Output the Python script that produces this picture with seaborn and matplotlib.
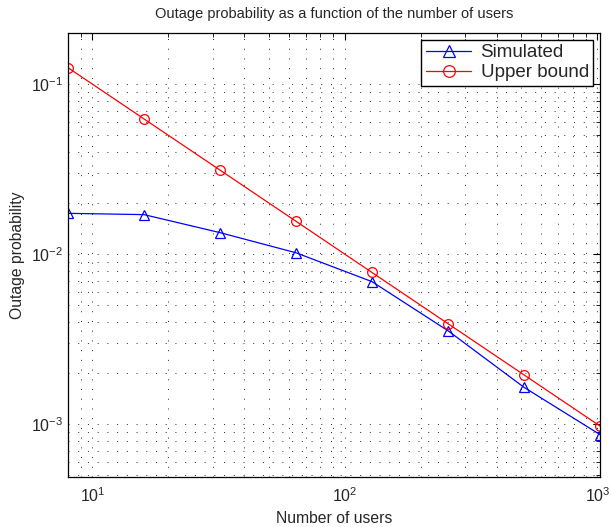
import numpy as np
import pandas as pd
import seaborn as sns
import matplotlib
matplotlib.use("Agg")
import matplotlib.pyplot as plt

# data
users = [8, 16, 32, 64, 128, 256, 512, 1024]
simulated = [0.0174, 0.0171, 0.0134, 0.0102, 0.0069, 0.00355, 0.00165, 0.00087]
upper_bound = [0.125, 0.0625, 0.03125, 0.015625, 0.0078125, 0.00390625, 0.001953125, 0.0009765625]

df = pd.DataFrame({"users": users, "Simulated": simulated, "Upper bound": upper_bound})

sns.set_style("white")
plt.rcParams["font.family"] = ["Liberation Sans", "DejaVu Sans"]
plt.rcParams["mathtext.fontset"] = "custom"
plt.rcParams["mathtext.rm"] = "Liberation Sans"
plt.rcParams["mathtext.it"] = "Liberation Sans"

fig = plt.figure(figsize=(6.11, 5.27), dpi=100)
ax = fig.add_axes([0.1113, 0.0949, 0.8707, 0.8425])

sns.lineplot(data=df, x="users", y="Simulated", ax=ax, color="blue", marker="^",
             markersize=7, markerfacecolor="none", markeredgecolor="blue",
             markeredgewidth=0.9, linewidth=0.9, label="Simulated")
sns.lineplot(data=df, x="users", y="Upper bound", ax=ax, color="red", marker="o",
             markersize=7, markerfacecolor="none", markeredgecolor="red",
             markeredgewidth=0.9, linewidth=0.9, label="Upper bound")

ax.set_xscale("log")
ax.set_yscale("log")
ax.set_xlim(8, 1024)
ax.set_ylim(4.9e-4, 0.2)

# matlab style dotted grid
ax.grid(True, which="both", linestyle=(0, (1, 9)), color="black", linewidth=0.7, alpha=0.85)
ax.tick_params(which="both", direction="in", top=True, right=True, labelsize=11.5, color="black")
ax.tick_params(which="major", length=5)
ax.tick_params(which="minor", length=3)
ax.tick_params(axis="x", which="major", pad=7)
for s in ax.spines.values():
    s.set_color("black")
    s.set_linewidth(0.9)

ax.set_title("Outage probability as a function of the number of users", fontsize=10.5, pad=10.5)
ax.set_xlabel("Number of users", fontsize=11.3, labelpad=4)
ax.set_ylabel("Outage probability", fontsize=11.3)

leg = ax.legend(loc="upper right", fontsize=13.5, fancybox=False, framealpha=1,
                edgecolor="black", borderaxespad=0.35, handlelength=2.4, borderpad=0.25,
                labelspacing=0.15, handletextpad=0.5, markerscale=1.2)
leg.get_frame().set_linewidth(1.0)

fig.savefig("out.png", dpi=100)
